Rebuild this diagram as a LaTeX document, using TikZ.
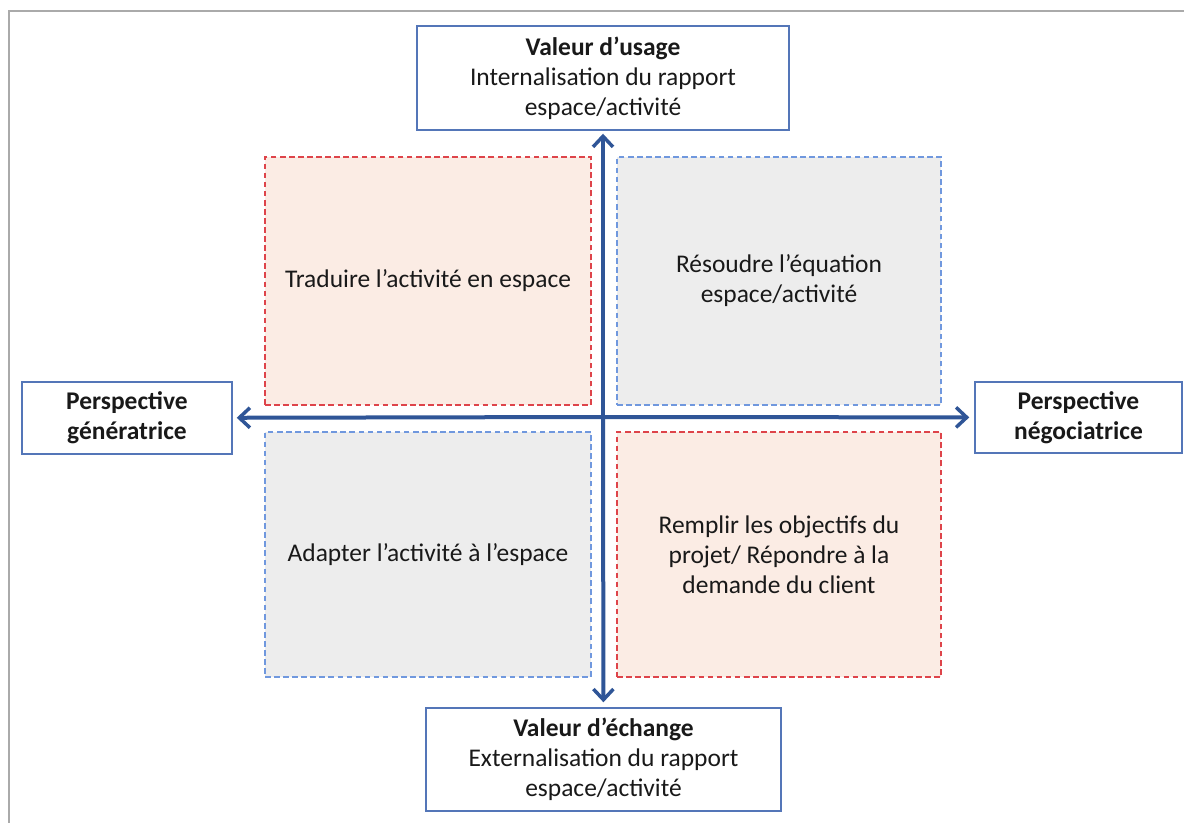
\documentclass[tikz,border=0pt]{standalone}
\usepackage{fontspec}
\setmainfont{Carlito}
\usetikzlibrary{arrows.meta}
\definecolor{boxblue}{RGB}{84,118,184}
\definecolor{axisblue}{RGB}{47,85,151}
\definecolor{dashred}{RGB}{222,68,74}
\definecolor{dashblue}{RGB}{112,152,222}
\definecolor{peach}{RGB}{251,236,228}
\definecolor{lightgray2}{RGB}{237,237,237}
\definecolor{txt}{RGB}{25,25,25}
\definecolor{frame}{RGB}{170,170,170}
\newcommand{\basefont}{\fontsize{19.1pt}{22.5pt}\selectfont}
\begin{document}
\begin{tikzpicture}[x=0.75pt,y=-0.75pt,
  font=\basefont,
  sidebox/.style={draw=boxblue, line width=1.1pt, fill=white, inner sep=0pt, align=center, text=txt},
  quad/.style={line width=1.1pt, dash pattern=on 4.2pt off 2.6pt, inner sep=0pt, align=center, text=txt},
  redq/.style={quad, draw=dashred, fill=peach},
  blueq/.style={quad, draw=dashblue, fill=lightgray2},
  axis/.style={draw=axisblue, line width=3pt, -{Straight Barb[length=8pt,width=15pt,line width=2.6pt]}}]
\useasboundingbox (0,0) rectangle (1184,823);
\fill[white] (0,0) rectangle (1184,823);
\draw[frame, line width=1.3pt] (9,823) -- (9,11) -- (1184,11);

% side boxes
\node[sidebox, minimum width=372*0.75pt, minimum height=104*0.75pt] (top) at (603,78)
  {\textbf{Valeur d’usage}\\Internalisation du rapport\\espace/activité};
\node[sidebox, minimum width=355*0.75pt, minimum height=103*0.75pt] (bot) at (603.5,759.5)
  {\textbf{Valeur d’échange}\\Externalisation du rapport\\espace/activité};
\node[sidebox, font=\basefont\bfseries, minimum width=210*0.75pt, minimum height=72*0.75pt] (left) at (127,418)
  {Perspective\\génératrice};
\node[sidebox, font=\basefont\bfseries, minimum width=207*0.75pt, minimum height=71*0.75pt] (right) at (1078.5,417.5)
  {Perspective\\négociatrice};

% quadrants
\node[redq, minimum width=326*0.75pt, minimum height=248*0.75pt] (tl) at (428,281)
  {Traduire l’activité en espace};
\node[blueq, minimum width=324*0.75pt, minimum height=248*0.75pt] (tr) at (779,281)
  {Résoudre l’équation\\espace/activité};
\node[blueq, minimum width=326*0.75pt, minimum height=245*0.75pt] (bl) at (428,554.5)
  {Adapter l’activité à l’espace};
\node[redq, minimum width=324*0.75pt, minimum height=245*0.75pt] (br) at (779,554.5)
  {Remplir les objectifs du\\projet/ Répondre à la\\demande du client};

% axes
\coordinate (c) at (603,417);
\draw[axis, shorten >=2.25pt] (c) -- (top);
\draw[axis, shorten >=3.75pt] (c) -- (bot);
\draw[axis, shorten >=3pt] (c) -- (left);
\draw[axis, shorten >=3.75pt] (c) -- (right);
\end{tikzpicture}
\end{document}
